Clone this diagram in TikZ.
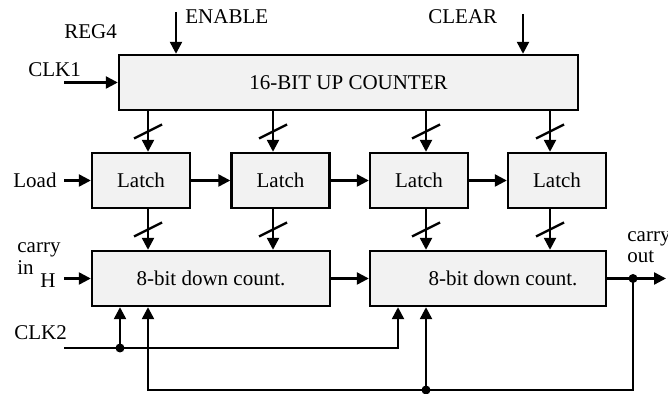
\documentclass[tikz,border=0pt]{standalone}
\usepackage{fontspec}
\setmainfont{Liberation Serif}
\usepackage{tikz}
\usetikzlibrary{arrows.meta, positioning, calc}
\definecolor{boxgray}{RGB}{242, 242, 242}

\begin{document}
\begin{tikzpicture}[x=0.5pt, y=-0.5pt, font=\fontsize{10.5}{12}\selectfont,
  blk/.style={draw, line width=1.2pt, fill=boxgray, inner sep=0pt, minimum height=27.5pt},
  wire/.style={line width=1.2pt},
  sig/.style={wire, -{Triangle[length=6pt, width=6pt]}},
  lbl/.style={inner sep=0pt, anchor=base west},
  junct/.style={circle, fill, inner sep=0pt, minimum size=4.5pt}]
  \fill[white] (0,0) rectangle (668,394);
  \useasboundingbox (0,0) rectangle (668,394);

  \node[blk, minimum width=229.5pt] (upcnt) at (348.5,82.5) {16-BIT UP COUNTER};
  \foreach \n/\cx in {1/141, 2/280.5, 3/419, 4/557}
    \node[blk, minimum width=49pt] (latch\n) at (\cx,180.5) {Latch};
  \node[blk, minimum width=119pt] (down1) at (211,278.5) {8-bit down count.};
  \node[blk, minimum width=118pt] (down2) at (488,278.5) {\hspace*{15pt}8-bit down count.};

  \node[lbl] (enable) at (185,24) {ENABLE};
  \node[lbl] (clear) at (428,24) {CLEAR};
  \node[lbl] (reg) at (64,39) {REG4};
  \node[lbl] (clka) at (28,77) {CLK1};
  \node[lbl] (load) at (13,188) {Load};
  \node[lbl] (carryin) at (17,253) {carry};
  \node[lbl] (in) at (17,275) {in};
  \node[lbl] (high) at (40,288) {H};
  \node[lbl] (clkb) at (14,340) {CLK2};
  \node[lbl] (carryout) at (627,242) {carry};
  \node[lbl] (out) at (627,263) {out};

  % counter -> latches -> down counters
  \foreach \n/\bx/\d in {1/148/1, 2/273/1, 3/426/2, 4/550/2} {
    \coordinate (bx\n) at (\bx,0);
    \draw[sig] (upcnt.south -| bx\n) -- (latch\n.north -| bx\n) coordinate[midway] (tbus\n);
    \draw[wire] ($(tbus\n)+(-14,7)$) -- ($(tbus\n)+(14,-7)$);
    \draw[sig] (latch\n.south -| bx\n) -- (down\d.north -| bx\n) coordinate[midway] (lbus\n);
    \draw[wire] ($(lbus\n)+(-14,7)$) -- ($(lbus\n)+(14,-7)$);
  }
  \draw[sig] (latch1.east) -- (latch2.west);
  \draw[sig] (latch2.east) -- (latch3.west);
  \draw[sig] (latch3.east) -- (latch4.west);

  \coordinate (enIn) at (176,12);
  \coordinate (clrIn) at (523,14);
  \coordinate (clk1In) at (64,82.5);
  \coordinate (loadIn) at (64,180.5);
  \coordinate (cinIn) at (64,278.5);
  \draw[sig] (enIn) -- (enIn |- upcnt.north);
  \draw[sig] (clrIn) -- (clrIn |- upcnt.north);
  \draw[sig] (clk1In) -- (upcnt.west);
  \draw[sig] (loadIn) -- (latch1.west);
  \draw[sig] (cinIn) -- (down1.west);
  \draw[sig] (down1.east) -- (down2.west);

  % carry out and feedback
  \coordinate (coutEnd) at (666,278.5);
  \coordinate (coutDot) at (633,278.5);
  \coordinate (fbLow) at (633,390);
  \coordinate (fb1) at (148,390);
  \coordinate (fb2) at (426,390);
  \draw[sig] (down2.east) -- (coutEnd);
  \draw[sig] (coutDot) -- (fbLow) -- (fb1) -- (fb1 |- down1.south);
  \draw[sig] (fb2) -- (fb2 |- down2.south);

  % second clock
  \coordinate (clk2In) at (64,348);
  \coordinate (clk2a) at (120,348);
  \coordinate (clk2b) at (398,348);
  \draw[sig] (clk2In) -- (clk2b) -- (clk2b |- down2.south);
  \draw[sig] (clk2a) -- (clk2a |- down1.south);

  \node[junct] (dotout) at (coutDot) {};
  \node[junct] (dotfb) at (fb2) {};
  \node[junct] (dotclk) at (clk2a) {};
\end{tikzpicture}
\end{document}
